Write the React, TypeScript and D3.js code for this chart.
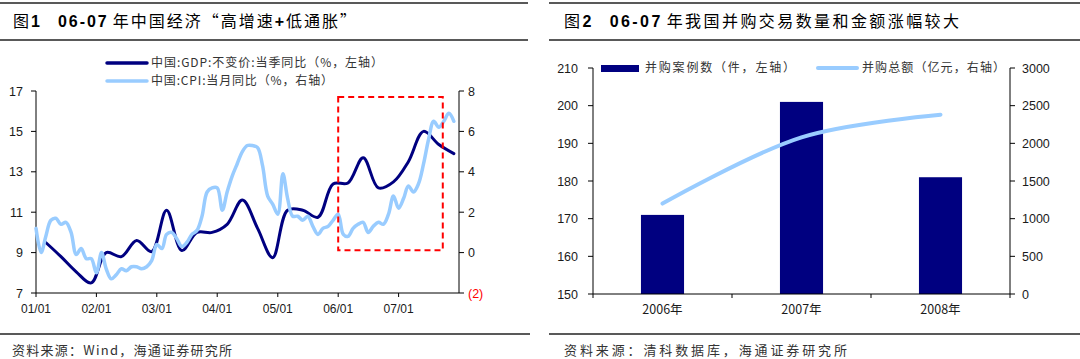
import React from 'react';
import * as d3 from 'd3';

// ---------- Data: left chart ----------
const xTickLabels = ['01/01', '02/01', '03/01', '04/01', '05/01', '06/01', '07/01'];
const gdpStartYear = 2001;
// 中国:GDP:不变价:当季同比 (quarterly, 2001Q1..2007Q4)
const gdpValues = [
  9.5, 8.8, 8.05, 7.5,
  9.0, 8.8, 9.6, 9.05,
  11.1, 9.1, 10.0, 10.0,
  10.4, 11.6, 10.2, 8.75,
  11.1, 11.1, 10.75, 12.4,
  12.45, 13.7, 12.2, 12.5,
  13.5, 15.0, 14.35, 13.9,
];
// 中国:CPI:当月同比 (monthly, 2001-01..2007-12)
const cpiValues = [
  1.2, 0.0, 0.8, 1.6, 1.7, 1.4, 1.5, 1.0, -0.1, 0.2, -0.3, -0.3,
  -1.0, 0.0, -0.8, -1.3, -1.1, -0.8, -0.9, -0.7, -0.7, -0.8, -0.7, -0.4,
  0.4, 0.2, 0.9, 1.0, 0.7, 0.3, 0.5, 0.9, 1.1, 1.8, 3.0, 3.2,
  3.2, 2.1, 3.0, 3.8, 4.4, 5.0, 5.3, 5.3, 5.2, 4.3, 2.8, 2.4,
  1.9, 3.9, 2.7, 1.8, 1.8, 1.6, 1.8, 1.3, 0.9, 1.2, 1.3, 1.6,
  1.9, 0.9, 0.8, 1.2, 1.4, 1.5, 1.0, 1.3, 1.5, 1.4, 1.9, 2.8,
  2.2, 2.7, 3.3, 3.0, 3.4, 4.4, 5.6, 6.5, 6.2, 6.5, 6.9, 6.5,
];
const leftAxisTicks = [7, 9, 11, 13, 15, 17];
const rightAxisTicks = [-2, 0, 2, 4, 6, 8];

// ---------- Data: right chart ----------
const mnaYears = ['2006年', '2007年', '2008年'];
const mnaDeals = [171, 201, 181];
const mnaAmounts = [1200, 2080, 2380];
const dealTicks = [150, 160, 170, 180, 190, 200, 210];
const amountTicks = [0, 500, 1000, 1500, 2000, 2500, 3000];

const NAVY = '#000080';
const LIGHT = '#99CCFF';
const NUM_FONT = '"Liberation Sans", Arial, sans-serif';
const CJK_FONT = '"Noto Sans CJK SC", "Liberation Sans", sans-serif';

export default function App() {
  // ---- left chart scales ----
  const xL = d3.scaleTime()
    .domain([new Date(2001, 0, 1), new Date(2008, 0, 1)])
    .range([36, 459]);
  const yGdp = d3.scaleLinear().domain([7, 17]).range([293, 91]);
  const yCpi = d3.scaleLinear().domain([-2, 8]).range([293, 91]);

  const gdpPts = gdpValues.map((v, i) => ({
    d: new Date(gdpStartYear + Math.floor(i / 4), (i % 4) * 3 + 2, 1),
    v,
  }));
  const cpiPts = cpiValues.map((v, i) => ({
    d: new Date(gdpStartYear + Math.floor(i / 12), i % 12, 1),
    v,
  }));
  const gdpLine = d3.line<any>().x(p => xL(p.d)).y(p => yGdp(p.v)).curve(d3.curveCatmullRom.alpha(0.5));
  const cpiLine = d3.line<any>().x(p => xL(p.d)).y(p => yCpi(p.v)).curve(d3.curveCatmullRom.alpha(0.5));

  const yearDates = xTickLabels.map((_, i) => new Date(2001 + i, 0, 1));

  // highlight box (annotation)
  const boxX0 = xL(new Date(2006, 0, 1));
  const boxX1 = xL(new Date(2007, 8, 25));
  const boxY0 = yCpi(7.7);
  const boxY1 = yCpi(0.12);

  // ---- right chart scales ----
  const xR = d3.scaleBand().domain(mnaYears).range([593, 1010]).padding(0);
  const yDeals = d3.scaleLinear().domain([150, 210]).range([294, 68]);
  const yAmt = d3.scaleLinear().domain([0, 3000]).range([294, 68]);
  const barW = xR.bandwidth() * 0.31;
  const amtLine = d3.line<any>()
    .x((_, i) => (xR(mnaYears[i]) as number) + xR.bandwidth() / 2)
    .y(v => yAmt(v))
    .curve(d3.curveCatmullRom.alpha(0.5));

  const axisColor = '#000';
  const labelColor = '#1a1a1a';

  return (
    <svg width={1080} height={359} style={{ position: 'absolute', left: 0, top: 0, background: '#fff' }}>
      <rect x={0} y={0} width={1080} height={359} fill="#fff" />
      {/* ===== Headers ===== */}
      <line x1={0} x2={528} y1={3} y2={3} stroke="#222" strokeWidth={1.5} />
      <line x1={0} x2={528} y1={40} y2={40} stroke="#222" strokeWidth={1.5} />
      <line x1={549} x2={1080} y1={3} y2={3} stroke="#222" strokeWidth={1.5} />
      <line x1={549} x2={1080} y1={40} y2={40} stroke="#222" strokeWidth={1.5} />
      <text x={13} y={27} fontSize={16} fontFamily={CJK_FONT} fill="#000" textLength={343} lengthAdjust="spacing">
        <tspan>图</tspan>
        <tspan fontWeight="bold" fontFamily={NUM_FONT}>1</tspan>
        <tspan dx={16} fontWeight="bold" fontFamily={NUM_FONT}>06-07</tspan>
        <tspan dx={4}>年中国经济“高增速</tspan>
        <tspan fontWeight="bold" fontFamily={NUM_FONT}>+</tspan>
        <tspan>低通胀”</tspan>
      </text>
      <text x={564} y={27} fontSize={16} fontFamily={CJK_FONT} fill="#000" textLength={395} lengthAdjust="spacing">
        <tspan>图</tspan>
        <tspan fontWeight="bold" fontFamily={NUM_FONT}>2</tspan>
        <tspan dx={16} fontWeight="bold" fontFamily={NUM_FONT}>06-07</tspan>
        <tspan dx={4}>年我国并购交易数量和金额涨幅较大</tspan>
      </text>

      {/* ===== Left chart ===== */}
      {/* legend */}
      <line x1={107} x2={147} y1={63} y2={63} stroke={NAVY} strokeWidth={3.5} strokeLinecap="round" />
      <text x={151} y={67} fontSize={12} fontFamily={CJK_FONT} fill="#333" textLength={232} lengthAdjust="spacing">中国:GDP:不变价:当季同比（%，左轴）</text>
      <line x1={107} x2={147} y1={81} y2={81} stroke={LIGHT} strokeWidth={3.5} strokeLinecap="round" />
      <text x={151} y={85} fontSize={12} fontFamily={CJK_FONT} fill="#333" textLength={182} lengthAdjust="spacing">中国:CPI:当月同比（%，右轴）</text>

      {/* left y axis */}
      <line x1={36} x2={36} y1={yGdp(17)} y2={yGdp(7)} stroke={axisColor} strokeWidth={1} />
      {leftAxisTicks.map(t => (
        <g key={'l' + t}>
          <line x1={31} x2={36} y1={yGdp(t)} y2={yGdp(t)} stroke={axisColor} />
          <text x={23} y={yGdp(t) + 4.5} textAnchor="end" fontSize={12.5} fontFamily={NUM_FONT} fill={labelColor}>{t}</text>
        </g>
      ))}
      {/* right y axis */}
      <line x1={459} x2={459} y1={yCpi(8)} y2={yCpi(-2)} stroke={axisColor} strokeWidth={1} />
      {rightAxisTicks.map(t => (
        <g key={'r' + t}>
          <line x1={459} x2={464} y1={yCpi(t)} y2={yCpi(t)} stroke={axisColor} />
          <text x={468} y={yCpi(t) + 4.5} fontSize={12.5} fontFamily={NUM_FONT} fill={t < 0 ? '#FF0000' : labelColor}>
            {t < 0 ? `(${Math.abs(t)})` : t}
          </text>
        </g>
      ))}
      {/* x axis */}
      <line x1={36} x2={459} y1={293} y2={293} stroke={axisColor} />
      {yearDates.map((d, i) => (
        <g key={'x' + i}>
          <line x1={xL(d)} x2={xL(d)} y1={293} y2={297} stroke={axisColor} />
          <text x={xL(d)} y={313} textAnchor="middle" fontSize={12} fontFamily={NUM_FONT} fill={labelColor}>{xTickLabels[i]}</text>
        </g>
      ))}

      {/* lines */}
      <path d={gdpLine(gdpPts) || ''} fill="none" stroke={NAVY} strokeWidth={3} strokeLinejoin="round" strokeLinecap="round" />
      <path d={cpiLine(cpiPts) || ''} fill="none" stroke={LIGHT} strokeWidth={3.5} strokeLinejoin="round" strokeLinecap="round" />

      {/* highlight box */}
      <rect x={boxX0} y={boxY0} width={boxX1 - boxX0} height={boxY1 - boxY0} fill="none" stroke="#FF0000" strokeWidth={2} strokeDasharray="6,4" />

      {/* ===== Right chart ===== */}
      {/* legend */}
      <rect x={601} y={65} width={38} height={7} fill={NAVY} />
      <text x={645} y={72} fontSize={12} fontFamily={CJK_FONT} fill="#333" textLength={150} lengthAdjust="spacing">并购案例数（件，左轴）</text>
      <line x1={818} x2={857} y1={68} y2={68} stroke={LIGHT} strokeWidth={4} strokeLinecap="round" />
      <text x={862} y={72} fontSize={12} fontFamily={CJK_FONT} fill="#333" textLength={143} lengthAdjust="spacing">并购总额（亿元，右轴）</text>

      {/* bars */}
      {mnaYears.map((y, i) => (
        <rect key={y} x={(xR(y) as number) + xR.bandwidth() / 2 - barW / 2} y={yDeals(mnaDeals[i])}
          width={barW} height={yDeals(150) - yDeals(mnaDeals[i])} fill={NAVY} />
      ))}
      {/* line */}
      <path d={amtLine(mnaAmounts) || ''} fill="none" stroke={LIGHT} strokeWidth={4} strokeLinecap="round" />

      {/* left axis */}
      <line x1={593} x2={593} y1={68} y2={294} stroke={axisColor} />
      {dealTicks.map(t => (
        <g key={'d' + t}>
          <line x1={588} x2={593} y1={yDeals(t)} y2={yDeals(t)} stroke={axisColor} />
          <text x={578} y={yDeals(t) + 4.5} textAnchor="end" fontSize={12.5} fontFamily={NUM_FONT} fill={labelColor}>{t}</text>
        </g>
      ))}
      {/* right axis */}
      <line x1={1010} x2={1010} y1={68} y2={294} stroke={axisColor} />
      {amountTicks.map(t => (
        <g key={'a' + t}>
          <line x1={1010} x2={1015} y1={yAmt(t)} y2={yAmt(t)} stroke={axisColor} />
          <text x={1022} y={yAmt(t) + 4.5} fontSize={12.5} fontFamily={NUM_FONT} fill={labelColor}>{t}</text>
        </g>
      ))}
      {/* x axis */}
      <line x1={593} x2={1010} y1={294} y2={294} stroke={axisColor} />
      {[...mnaYears.map(y => xR(y) as number), 1010].map((x, i) => (
        <line key={'bt' + i} x1={x} x2={x} y1={294} y2={298} stroke={axisColor} />
      ))}
      {mnaYears.map(y => (
        <text key={'bl' + y} x={(xR(y) as number) + xR.bandwidth() / 2} y={314} textAnchor="middle" fontSize={12.5} fontFamily={CJK_FONT} fill={labelColor}>{y}</text>
      ))}

      {/* ===== Footers ===== */}
      <line x1={0} x2={530} y1={334} y2={334} stroke="#222" strokeWidth={1.5} />
      <line x1={549} x2={1080} y1={334} y2={334} stroke="#222" strokeWidth={1.5} />
      <text x={12} y={355} fontSize={13} fontFamily={CJK_FONT} fill="#333" textLength={220} lengthAdjust="spacing">资料来源：Wind，海通证券研究所</text>
      <text x={564} y={355} fontSize={13} fontFamily={CJK_FONT} fill="#333" textLength={283} lengthAdjust="spacing">资料来源：清科数据库，海通证券研究所</text>
    </svg>
  );
}
